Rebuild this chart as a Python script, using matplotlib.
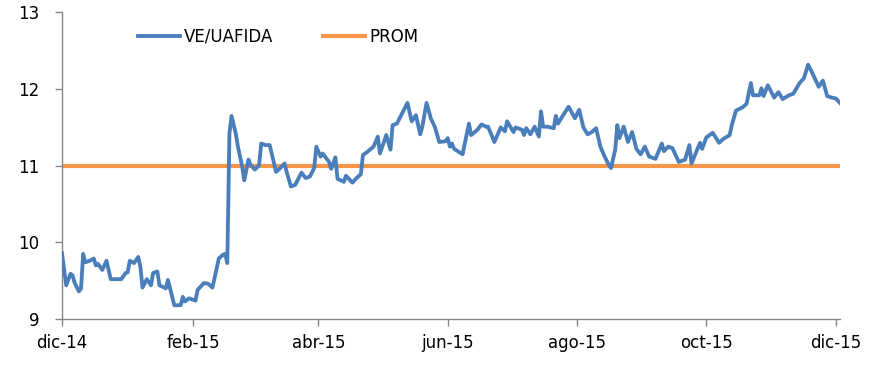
# -*- coding: utf-8 -*-

import numpy as np
import pandas as pd
import matplotlib

matplotlib.use("Agg")
import matplotlib.pyplot as plt

# days since 2014-12-01 for each reading of the VE/UAFIDA series
day_offsets = [
    0, 2, 4, 5, 6, 8, 9, 10, 11, 13, 15, 16, 17, 19, 21, 23, 28, 30, 31, 32,
    34, 36, 37, 38, 40, 42, 43, 45, 46, 49, 50, 53, 56, 57, 58, 60, 63, 64, 67, 69,
    71, 74, 76, 77, 78, 79, 80, 82, 83, 85, 86, 88, 89, 91, 93, 94, 96, 98, 101, 103,
    105, 106, 108, 110, 113, 115, 117, 119, 120, 122, 123, 126, 127, 128, 129, 130, 133, 134, 137, 139,
    141, 142, 144, 147, 149, 150, 153, 155, 156, 158, 163, 165, 167, 169, 170, 172, 174, 176, 178, 181,
    182, 183, 184, 185, 189, 192, 193, 196, 198, 200, 201, 204, 207, 209, 210, 213, 214, 217, 218, 219,
    221, 223, 225, 226, 227, 229, 232, 233, 234, 236, 239, 242, 244, 246, 248, 250, 252, 254, 256, 258,
    259, 261, 262, 263, 265, 267, 269, 271, 273, 275, 277, 280, 283, 284, 286, 288, 291, 294, 296, 297,
    301, 302, 304, 307, 310, 312, 315, 316, 318, 321, 323, 325, 326, 329, 330, 331, 333, 336, 338, 340,
    343, 345, 348, 350, 352, 354, 357, 359, 361, 363, 365, 367,
]
ve_uafida = [
    9.86, 9.44, 9.59, 9.57, 9.47, 9.36, 9.40, 9.85, 9.74, 9.76, 9.79, 9.70, 9.72, 9.64, 9.76, 9.52, 9.52, 9.60, 9.61, 9.76,
    9.73, 9.81, 9.68, 9.41, 9.52, 9.44, 9.60, 9.62, 9.44, 9.40, 9.51, 9.18, 9.18, 9.29, 9.23, 9.27, 9.24, 9.38, 9.47, 9.46,
    9.41, 9.79, 9.84, 9.85, 9.73, 11.42, 11.65, 11.42, 11.25, 10.99, 10.81, 11.08, 11.01, 10.95, 11.01, 11.29, 11.27, 11.27, 10.92, 10.97,
    11.03, 10.92, 10.73, 10.75, 10.91, 10.84, 10.86, 10.97, 11.25, 11.12, 11.16, 11.05, 10.96, 11.03, 11.11, 10.83, 10.79, 10.87, 10.78, 10.84,
    10.89, 11.14, 11.18, 11.25, 11.38, 11.16, 11.40, 11.21, 11.53, 11.55, 11.82, 11.58, 11.66, 11.41, 11.51, 11.82, 11.62, 11.50, 11.31, 11.32,
    11.36, 11.25, 11.29, 11.22, 11.15, 11.55, 11.40, 11.47, 11.54, 11.51, 11.51, 11.31, 11.50, 11.45, 11.58, 11.44, 11.50, 11.47, 11.40, 11.49,
    11.41, 11.51, 11.38, 11.71, 11.51, 11.51, 11.49, 11.65, 11.55, 11.64, 11.77, 11.62, 11.73, 11.50, 11.41, 11.44, 11.49, 11.25, 11.12, 11.01,
    10.97, 11.21, 11.53, 11.36, 11.51, 11.31, 11.44, 11.22, 11.15, 11.25, 11.12, 11.09, 11.29, 11.19, 11.25, 11.23, 11.05, 11.08, 11.27, 11.03,
    11.30, 11.22, 11.37, 11.43, 11.30, 11.35, 11.40, 11.53, 11.72, 11.76, 11.81, 12.08, 11.92, 11.92, 12.01, 11.91, 12.05, 11.89, 11.96, 11.87,
    11.92, 11.94, 12.08, 12.14, 12.32, 12.21, 12.03, 12.11, 11.91, 11.89, 11.88, 11.82,
]
prom = 11.0

tick_dates = ["2014-12-01", "2015-02-01", "2015-04-01", "2015-06-01",
              "2015-08-01", "2015-10-01", "2015-12-01"]
tick_labels = ["dic-14", "feb-15", "abr-15", "jun-15", "ago-15", "oct-15", "dic-15"]

dates = pd.Timestamp("2014-12-01") + pd.to_timedelta(day_offsets, unit="D")

plt.rcParams["font.family"] = ["DejaVu Sans"]
plt.rcParams["font.size"] = 12

fig = plt.figure(figsize=(8.79, 3.78), dpi=100)
ax = fig.add_axes([0.0705, 0.156, 0.885, 0.811])

ax.plot(dates, ve_uafida, color="#4A7EBB", lw=2.75, label="VE/UAFIDA",
        solid_joinstyle="round", zorder=3)
ax.plot([dates[0], dates[-1]], [prom, prom], color="#F79646", lw=3.0,
        label="PROM", zorder=2)

ax.set_xlim(dates[0], dates[-1])
ax.set_ylim(9, 13)
ax.set_yticks([9, 10, 11, 12, 13])
ax.set_xticks(pd.to_datetime(tick_dates))
ax.set_xticklabels(tick_labels)

for s in ["top", "right"]:
    ax.spines[s].set_visible(False)
for s in ["left", "bottom"]:
    ax.spines[s].set_color("#868686")
    ax.spines[s].set_linewidth(1.0)
ax.tick_params(axis="both", colors="#868686", labelcolor="black",
               labelsize=12, length=5, width=1.0)
ax.tick_params(axis="y", pad=11)
ax.tick_params(axis="x", pad=6)

leg = ax.legend(loc="upper left", bbox_to_anchor=(0.0977, 0.95), ncol=2,
                frameon=False, handlelength=2.5, columnspacing=3.0,
                handletextpad=0.25, borderaxespad=0, borderpad=0,
                fontsize=12)

fig.savefig("out.png", dpi=100)
